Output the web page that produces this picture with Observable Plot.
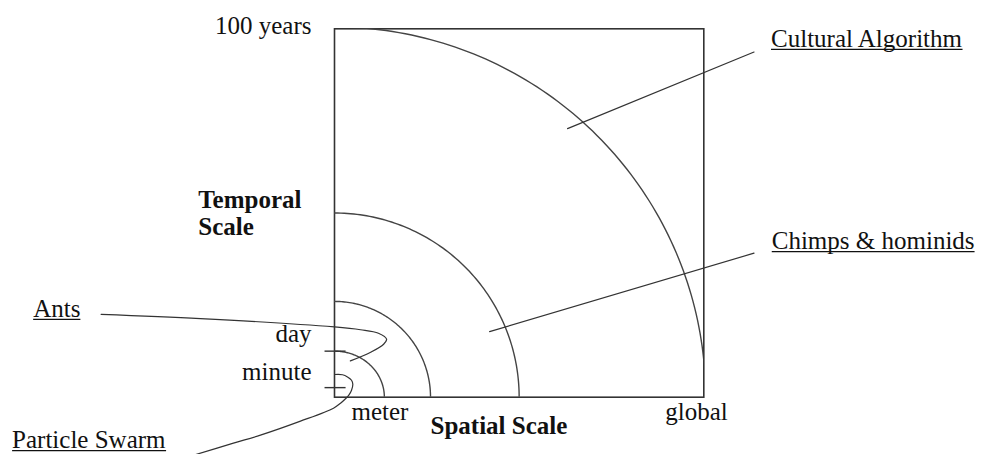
<!DOCTYPE html>
<html>
<head>
<meta charset="utf-8">
<script src="https://cdn.jsdelivr.net/npm/d3@7"></script>
<script src="https://cdn.jsdelivr.net/npm/@observablehq/plot@0.6"></script>
<style>
  html, body { margin: 0; padding: 0; background: #fff; }
  #chart svg { display: block; }
</style>
</head>
<body>
<div id="chart"></div>
<script>
// ---- Data (spatial × temporal extents, in % of the frame) ----
const arcNames    = ["Cultural Algorithm", "Chimps & hominids", "Ants", "meter"];
const arcSpatial  = [100.5, 50, 26, 13.5];
const arcTemporal = [100.5, 50, 26, 12.5];

// temporal ticks on the vertical axis
const yTickValues = [12.5, 2.6];

// axis labels
const yLabelNames  = ["100 years", "day", "minute"];
const yLabelValues = [98.6, 14.9, 4.6];
const xLabelNames  = ["meter", "global"];
const xLabelValues = [13.5, 100];

// call-out labels
const calloutNames = ["Cultural Algorithm", "Chimps & hominids", "Ants", "Particle Swarm"];
const calloutX     = [118.2, 118.4, -81.6, -87.3];
const calloutY     = [95.1, 40.2, 21.8, -13.8];

// call-out leader lines
const culturalLeaderX = [63.1, 113.6];
const culturalLeaderY = [72.9, 93.7];
const chimpsLeaderX   = [42.0, 113.6];
const chimpsLeaderY   = [17.8, 39.1];
const antsLeaderX     = [-63.2, -36.3, 0, 7.05, 11.9, 14.1, 13.3, 9.8, 4.3];
const antsLeaderY     = [22.5, 21.35, 19.07, 18.31, 17.36, 15.74, 14.38, 12.21, 9.85];
const swarmLeaderX    = [0, 2.17, 3.52, 4.61, 4.96, 4.61, 3.88, 2.98, 1.63, -0.27, -9.21, -20.05, -27.37, -37.67];
const swarmLeaderY    = [6.16, 6.10, 5.51, 4.61, 3.53, 1.90, 0.54, -0.41, -1.63, -2.98, -6.51, -10.31, -12.48, -15.6];

// axis titles
const axisTitles  = ["Temporal\nScale", "Spatial Scale"];
const axisTitleX  = [-36.9, 26.0];
const axisTitleY  = [44.0, -9.9];

// ---- Build tables ----
const arcs = arcNames.flatMap((name, i) =>
  d3.range(0, 90.001, 1).map(a => ({
    name,
    x: arcSpatial[i] * Math.cos(a * Math.PI / 180),
    y: arcTemporal[i] * Math.sin(a * Math.PI / 180)
  })));

const leaders = [
  ["Cultural Algorithm", culturalLeaderX, culturalLeaderY],
  ["Chimps & hominids", chimpsLeaderX, chimpsLeaderY],
  ["Ants", antsLeaderX, antsLeaderY],
  ["Particle Swarm", swarmLeaderX, swarmLeaderY]
].flatMap(([name, xs, ys]) => xs.map((x, j) => ({name, x, y: ys[j]})));

const yTicks   = yTickValues.map(v => ({v}));
const yLabels  = yLabelNames.map((label, i) => ({label, y: yLabelValues[i]}));
const xLabels  = xLabelNames.map((label, i) => ({label, x: xLabelValues[i]}));
const callouts = calloutNames.map((label, i) => ({label, x: calloutX[i], y: calloutY[i]}));
const titles   = axisTitles.map((label, i) => ({label, x: axisTitleX[i], y: axisTitleY[i]}));

const plot = Plot.plot({
  width: 982,
  height: 454,
  marginLeft: 334,
  marginRight: 278.7,
  marginTop: 28.3,
  marginBottom: 57.3,
  x: {domain: [0, 100], axis: null},
  y: {domain: [0, 100], axis: null},
  style: {fontFamily: "'Liberation Serif', 'Times New Roman', serif", background: "#fff", color: "#111"},
  marks: [
    Plot.frame({stroke: "#333", strokeWidth: 1.6}),
    Plot.line(arcs, {x: "x", y: "y", z: "name", stroke: "#444", strokeWidth: 1.4, clip: true}),
    Plot.link(yTicks, {x1: () => -2.7, x2: () => 3, y1: "v", y2: "v", stroke: "#333", strokeWidth: 1.4}),
    Plot.line(leaders, {x: "x", y: "y", z: "name", stroke: "#333", strokeWidth: 1.2, curve: "catmull-rom"}),
    Plot.text(yLabels, {x: () => 0, y: "y", text: "label", textAnchor: "end", lineAnchor: "bottom", dx: -23, fontSize: 25}),
    Plot.text(xLabels, {x: "x", y: () => 0, text: "label", textAnchor: "end", lineAnchor: "bottom", dx: 24, dy: 22.5, fontSize: 25}),
    Plot.text(callouts, {x: "x", y: "y", text: "label", textAnchor: "start", lineAnchor: "bottom", fontSize: 25}),
    Plot.text(titles, {x: "x", y: "y", text: "label", textAnchor: "start", lineAnchor: "bottom", fontSize: 25, fontWeight: "bold", lineHeight: 1.07})
  ]
});

document.getElementById("chart").appendChild(plot);

// underline the call-out labels
const svg = d3.select(plot);
svg.selectAll("text").each(function () {
  if (calloutNames.includes(this.textContent)) {
    const b = this.getBBox();
    const ctm = this.parentNode;
    d3.select(ctm).append("line")
      .attr("x1", b.x).attr("x2", b.x + b.width)
      .attr("y1", b.y + b.height - 2.5).attr("y2", b.y + b.height - 2.5)
      .attr("transform", this.getAttribute("transform"))
      .attr("stroke", "#111").attr("stroke-width", 1.2);
  }
});
</script>
</body>
</html>
